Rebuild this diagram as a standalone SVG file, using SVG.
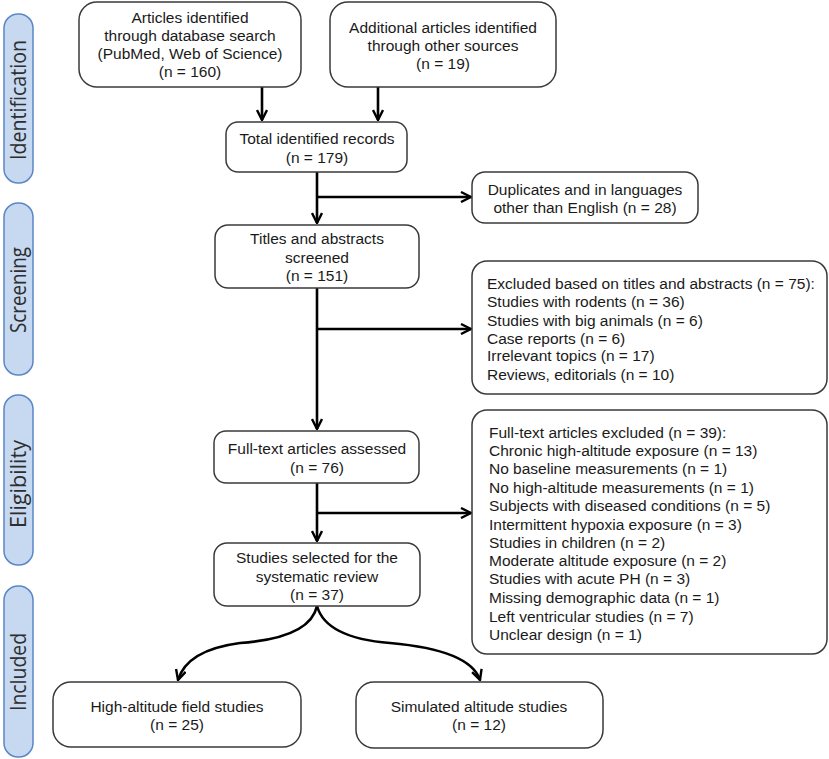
<svg xmlns="http://www.w3.org/2000/svg" width="829" height="759" viewBox="0 0 829 759">
<style>
.box{fill:#fff;stroke:#3a3a3a;stroke-width:1.5}
.side{fill:#c6d9f1;stroke:#5b87c5;stroke-width:1.5}
.t{font-family:"Liberation Sans",Arial,sans-serif;font-size:15.5px;fill:#1a1a1a}
.c{text-anchor:middle}
.st{font-family:"Open Sans","Noto Sans",sans-serif;font-size:21px;fill:#2e2e2e;text-anchor:middle}
.ln{fill:none;stroke:#000;stroke-width:2.6}
</style>
<defs>
<marker id="ah" viewBox="0 0 12 12" refX="11" refY="6" markerWidth="12" markerHeight="12" markerUnits="userSpaceOnUse" orient="auto">
<path d="M1,1 L11,6 L1,11" fill="none" stroke="#000" stroke-width="2.4"/>
</marker>
</defs>
<g id="stages">
<g id="stage-identification"><rect class="side" x="4" y="14" width="29" height="169" rx="14"/><text class="st" transform="translate(25.5,100) rotate(-90)" textLength="120" lengthAdjust="spacingAndGlyphs">Identification</text></g>
<g id="stage-screening"><rect class="side" x="4" y="203" width="29" height="172" rx="14"/><text class="st" transform="translate(25.5,290) rotate(-90)" textLength="86" lengthAdjust="spacingAndGlyphs">Screening</text></g>
<g id="stage-eligibility"><rect class="side" x="4" y="395" width="29" height="170" rx="14"/><text class="st" transform="translate(25.5,484) rotate(-90)" textLength="88" lengthAdjust="spacingAndGlyphs">Eligibility</text></g>
<g id="stage-included"><rect class="side" x="4" y="586" width="29" height="171" rx="14"/><text class="st" transform="translate(25.5,672) rotate(-90)" textLength="78" lengthAdjust="spacingAndGlyphs">Included</text></g>
</g>
<g id="connectors">
<path class="ln" d="M262,87 V120" marker-end="url(#ah)"/>
<path class="ln" d="M378,87 V120" marker-end="url(#ah)"/>
<path class="ln" d="M317,172 V223" marker-end="url(#ah)"/>
<path class="ln" d="M317,197 H471" marker-end="url(#ah)"/>
<path class="ln" d="M317,288 V429" marker-end="url(#ah)"/>
<path class="ln" d="M317,329 H471" marker-end="url(#ah)"/>
<path class="ln" d="M317,483 V541" marker-end="url(#ah)"/>
<path class="ln" d="M317,513 H471" marker-end="url(#ah)"/>
<path class="ln" d="M317,606 Q310,638 240,643 Q187,650 178,680" marker-end="url(#ah)"/>
<path class="ln" d="M317,606 Q326,638 390,643 Q470,650 480,680" marker-end="url(#ah)"/>
</g>
<g id="n-database">
<rect class="box" x="79" y="2" width="222" height="85" rx="18"/>
<text class="t c" x="190" y="23">Articles identified</text>
<text class="t c" x="190" y="41">through  database search</text>
<text class="t c" x="190" y="59">(PubMed, Web of Science)</text>
<text class="t c" x="190" y="77">(n = 160)</text>
</g>
<g id="n-other">
<rect class="box" x="330" y="2" width="226" height="85" rx="18"/>
<text class="t c" x="443" y="33">Additional articles identified</text>
<text class="t c" x="443" y="51">through  other sources</text>
<text class="t c" x="443" y="69">(n = 19)</text>
</g>
<g id="n-total">
<rect class="box" x="226" y="122" width="181" height="50" rx="12"/>
<text class="t c" x="317" y="144">Total identified records</text>
<text class="t c" x="317" y="163">(n = 179)</text>
</g>
<g id="n-duplicates">
<rect class="box" x="472" y="172" width="226" height="51" rx="13"/>
<text class="t c" x="585" y="195">Duplicates and in languages</text>
<text class="t c" x="585" y="213">other than English (n = 28)</text>
</g>
<g id="n-titles">
<rect class="box" x="215" y="225" width="204" height="63" rx="13"/>
<text class="t c" x="317" y="244">Titles and abstracts</text>
<text class="t c" x="317" y="263">screened</text>
<text class="t c" x="317" y="281">(n = 151)</text>
</g>
<g id="n-excluded-titles">
<rect class="box" x="472" y="261" width="355" height="133" rx="15"/>
<text class="t" x="487" y="289">Excluded based on titles and abstracts (n = 75):</text>
<text class="t" x="487" y="307">Studies with rodents (n = 36)</text>
<text class="t" x="487" y="326">Studies with big animals (n = 6)</text>
<text class="t" x="487" y="344">Case reports (n = 6)</text>
<text class="t" x="487" y="361">Irrelevant  topics (n = 17)</text>
<text class="t" x="487" y="380">Reviews, editorials (n = 10)</text>
</g>
<g id="n-fulltext">
<rect class="box" x="214" y="431" width="205" height="52" rx="12"/>
<text class="t c" x="317" y="454">Full-text  articles assessed</text>
<text class="t c" x="317" y="473">(n = 76)</text>
</g>
<g id="n-excluded-fulltext">
<rect class="box" x="472" y="410" width="355" height="244" rx="15"/>
<text class="t" x="489" y="438">Full-text  articles excluded (n = 39):</text>
<text class="t" x="489" y="456">Chronic high-altitude  exposure (n = 13)</text>
<text class="t" x="489" y="474">No baseline measurements  (n = 1)</text>
<text class="t" x="489" y="493">No high-altitude  measurements  (n = 1)</text>
<text class="t" x="489" y="511">Subjects with diseased conditions (n = 5)</text>
<text class="t" x="489" y="530">Intermittent  hypoxia  exposure (n = 3)</text>
<text class="t" x="489" y="548">Studies in children  (n = 2)</text>
<text class="t" x="489" y="566">Moderate altitude  exposure  (n = 2)</text>
<text class="t" x="489" y="584">Studies with acute PH (n = 3)</text>
<text class="t" x="489" y="603">Missing demographic data (n = 1)</text>
<text class="t" x="489" y="622">Left ventricular  studies (n = 7)</text>
<text class="t" x="489" y="640">Unclear design (n = 1)</text>
</g>
<g id="n-selected">
<rect class="box" x="214" y="543" width="206" height="63" rx="13"/>
<text class="t c" x="317" y="563">Studies selected for the</text>
<text class="t c" x="317" y="582">systematic review</text>
<text class="t c" x="317" y="600">(n = 37)</text>
</g>
<g id="n-field">
<rect class="box" x="53" y="682" width="248" height="65" rx="18"/>
<text class="t c" x="177" y="712">High-altitude  field studies</text>
<text class="t c" x="177" y="730">(n = 25)</text>
</g>
<g id="n-simulated">
<rect class="box" x="356" y="682" width="247" height="66" rx="18"/>
<text class="t c" x="479" y="712">Simulated altitude studies</text>
<text class="t c" x="479" y="730">(n = 12)</text>
</g>
</svg>
